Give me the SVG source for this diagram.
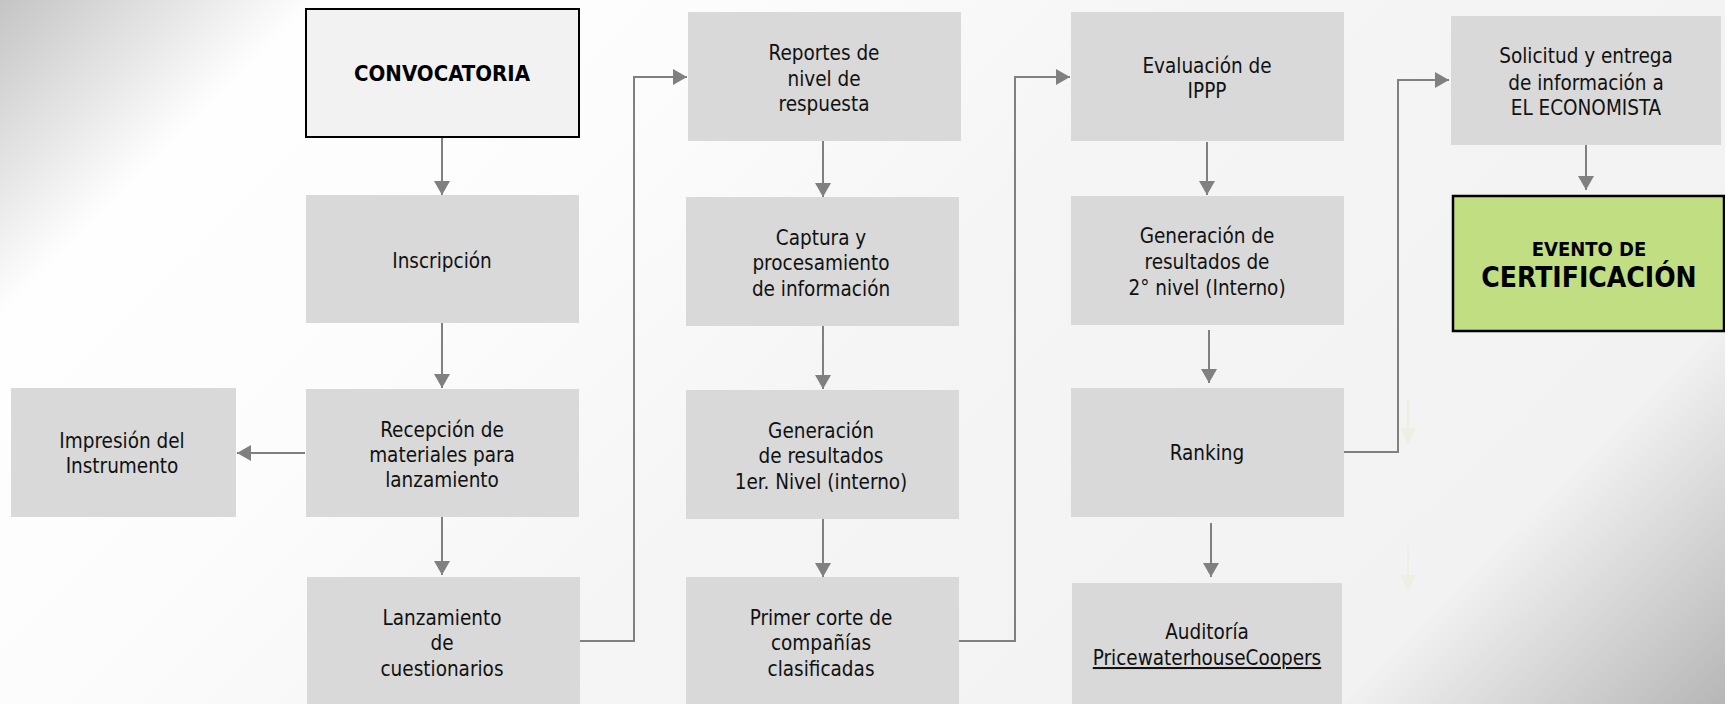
<svg xmlns="http://www.w3.org/2000/svg" width="1725" height="704" viewBox="0 0 1725 704">
<defs>
<linearGradient id="bg" gradientUnits="userSpaceOnUse" x1="0" y1="0" x2="1215" y2="1215">
<stop offset="0" stop-color="#c4c4c4"/>
<stop offset="0.13" stop-color="#fefefe"/>
<stop offset="0.3" stop-color="#fcfcfc"/>
<stop offset="0.5" stop-color="#f5f5f5"/>
<stop offset="0.84" stop-color="#f2f2f2"/>
<stop offset="1" stop-color="#b6b6b6"/>
</linearGradient>
<marker id="ah" markerUnits="userSpaceOnUse" viewBox="0 0 14 16" markerWidth="14" markerHeight="16" refX="14" refY="8" orient="auto">
<path d="M0,0 L14,8 L0,16 z" fill="#808080"/>
</marker>
<marker id="ahf" markerUnits="userSpaceOnUse" viewBox="0 0 16 16" markerWidth="16" markerHeight="16" refX="16" refY="8" orient="auto">
<path d="M0,0 L16,8 L0,16 z" fill="#efeee2"/>
</marker>
</defs>
<style>
.box{fill:#d9d9d9}
.t{font-family:"DejaVu Sans Condensed","DejaVu Sans",sans-serif;font-size:20.5px;fill:#111;text-anchor:middle}
.b{font-family:"DejaVu Sans Condensed","DejaVu Sans",sans-serif;font-weight:bold;fill:#000;text-anchor:middle}
.c{fill:none;stroke:#808080;stroke-width:2}
.f{fill:none;stroke:#efeee2;stroke-width:2}
</style>
<rect x="0" y="0" width="1725" height="704" fill="url(#bg)"/>

<g id="connectors">
<path class="c" d="M442,138 V195" marker-end="url(#ah)"/>
<path class="c" d="M442,323 V388" marker-end="url(#ah)"/>
<path class="c" d="M305,453 H237" marker-end="url(#ah)"/>
<path class="c" d="M442,517 V575" marker-end="url(#ah)"/>
<path class="c" d="M580,641 H634 V77 H687" marker-end="url(#ah)"/>
<path class="c" d="M823,141 V197" marker-end="url(#ah)"/>
<path class="c" d="M823,326 V389" marker-end="url(#ah)"/>
<path class="c" d="M823,519 V577" marker-end="url(#ah)"/>
<path class="c" d="M959,641 H1015 V77 H1070" marker-end="url(#ah)"/>
<path class="c" d="M1207,142 V195" marker-end="url(#ah)"/>
<path class="c" d="M1209,330 V383" marker-end="url(#ah)"/>
<path class="c" d="M1211,523 V577" marker-end="url(#ah)"/>
<path class="c" d="M1344,452 H1398 V80 H1449" marker-end="url(#ah)"/>
<path class="c" d="M1586,145 V190" marker-end="url(#ah)"/>
<path class="f" d="M1408,398 V444" marker-end="url(#ahf)"/>
<path class="f" d="M1408,546 V591" marker-end="url(#ahf)"/>
</g>

<g id="convocatoria">
<rect x="306" y="9" width="273" height="128" fill="#f2f2f2" stroke="#000" stroke-width="2"/>
<text class="b" x="442" y="81" font-size="22">CONVOCATORIA</text>
</g>
<g id="inscripcion">
<rect class="box" x="306" y="195" width="273" height="128"/>
<text class="t" x="442" y="268">Inscripción</text>
</g>
<g id="recepcion">
<rect class="box" x="306" y="389" width="273" height="128"/>
<text class="t" x="442" y="437">Recepción de</text>
<text class="t" x="442" y="462">materiales para</text>
<text class="t" x="442" y="487">lanzamiento</text>
</g>
<g id="impresion">
<rect class="box" x="11" y="388" width="225" height="129"/>
<text class="t" x="122" y="448">Impresión del</text>
<text class="t" x="122" y="473">Instrumento</text>
</g>
<g id="lanzamiento">
<rect class="box" x="307" y="577" width="273" height="127"/>
<text class="t" x="442" y="625">Lanzamiento</text>
<text class="t" x="442" y="650">de</text>
<text class="t" x="442" y="676">cuestionarios</text>
</g>

<g id="reportes">
<rect class="box" x="688" y="12" width="273" height="129"/>
<text class="t" x="824" y="60">Reportes de</text>
<text class="t" x="824" y="86">nivel de</text>
<text class="t" x="824" y="111">respuesta</text>
</g>
<g id="captura">
<rect class="box" x="686" y="197" width="273" height="129"/>
<text class="t" x="821" y="245">Captura y</text>
<text class="t" x="821" y="270">procesamiento</text>
<text class="t" x="821" y="296">de información</text>
</g>
<g id="generacion1">
<rect class="box" x="686" y="390" width="273" height="129"/>
<text class="t" x="821" y="438">Generación</text>
<text class="t" x="821" y="463">de resultados</text>
<text class="t" x="821" y="489">1er. Nivel (interno)</text>
</g>
<g id="primercorte">
<rect class="box" x="686" y="577" width="273" height="127"/>
<text class="t" x="821" y="625">Primer corte de</text>
<text class="t" x="821" y="650">compañías</text>
<text class="t" x="821" y="676">clasificadas</text>
</g>

<g id="evaluacion">
<rect class="box" x="1071" y="12" width="273" height="129"/>
<text class="t" x="1207" y="73">Evaluación de</text>
<text class="t" x="1207" y="98">IPPP</text>
</g>
<g id="generacion2">
<rect class="box" x="1071" y="196" width="273" height="129"/>
<text class="t" x="1207" y="243">Generación de</text>
<text class="t" x="1207" y="269">resultados de</text>
<text class="t" x="1207" y="295">2° nivel (Interno)</text>
</g>
<g id="ranking">
<rect class="box" x="1071" y="388" width="273" height="129"/>
<text class="t" x="1207" y="460">Ranking</text>
</g>
<g id="auditoria">
<rect class="box" x="1072" y="583" width="270" height="121"/>
<text class="t" x="1207" y="639">Auditoría</text>
<text class="t" x="1207" y="665" text-decoration="underline">PricewaterhouseCoopers</text>
</g>

<g id="solicitud">
<rect class="box" x="1451" y="16" width="270" height="129"/>
<text class="t" x="1586" y="63">Solicitud y entrega</text>
<text class="t" x="1586" y="90">de información a</text>
<text class="t" x="1586" y="115">EL ECONOMISTA</text>
</g>
<g id="evento">
<rect x="1453" y="196" width="271" height="135" fill="#c1de82" stroke="#000" stroke-width="2.5"/>
<text class="b" x="1589" y="256" font-size="20">EVENTO DE</text>
<text class="b" x="1589" y="287" font-size="28">CERTIFICACIÓN</text>
</g>
</svg>
